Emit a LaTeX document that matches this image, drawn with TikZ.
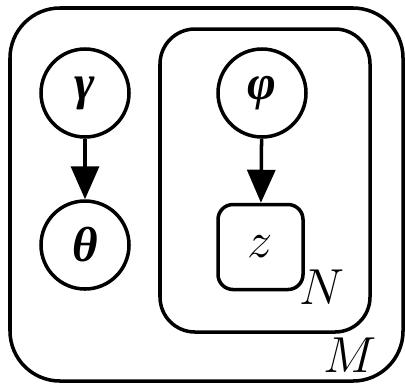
\documentclass[tikz,border=0pt]{standalone}
\usepackage{fontspec}
\newfontfamily\greekfont{Liberation Serif}
\usetikzlibrary{arrows.meta}
\tikzset{
	var/.style={draw,circle,line width=1pt,minimum size=0.88cm,inner sep=0pt,font=\fontsize{14}{16}\selectfont\greekfont\bfseries\itshape},
	obs/.style={draw,rectangle,rounded corners=0.15cm,line width=1pt,minimum size=0.85cm,inner sep=0pt,font=\fontsize{13.5}{16}\selectfont},
	platelabel/.style={inner sep=0pt,font=\fontsize{13.5}{16}\selectfont},
	edge/.style={line width=1pt,-{Triangle[length=3.3mm,width=2.8mm]}}
}
\begin{document}
\begin{tikzpicture}
	\useasboundingbox (0,0) rectangle (4.05,3.83);
	\draw[line width=1pt,rounded corners=0.5cm] (0.10,0.02) rectangle (4.03,3.75);
	\draw[line width=1pt,rounded corners=0.35cm] (1.60,0.51) rectangle (3.70,3.54);
	\node[var] (gamma) at (0.85,2.90) {γ};
	\node[var] (theta) at (0.85,1.38) {θ};
	\node[var] (phi) at (2.62,2.90) {φ};
	\node[obs] (z) at (2.605,1.36) {$z$};
	\node[platelabel] (N) at (3.22,0.96) {$N$};
	\node[platelabel] (M) at (3.50,0.28) {$M$};
	\draw[edge] (gamma) -- (theta);
	\draw[edge] (phi) -- (z);
\end{tikzpicture}
\end{document}
